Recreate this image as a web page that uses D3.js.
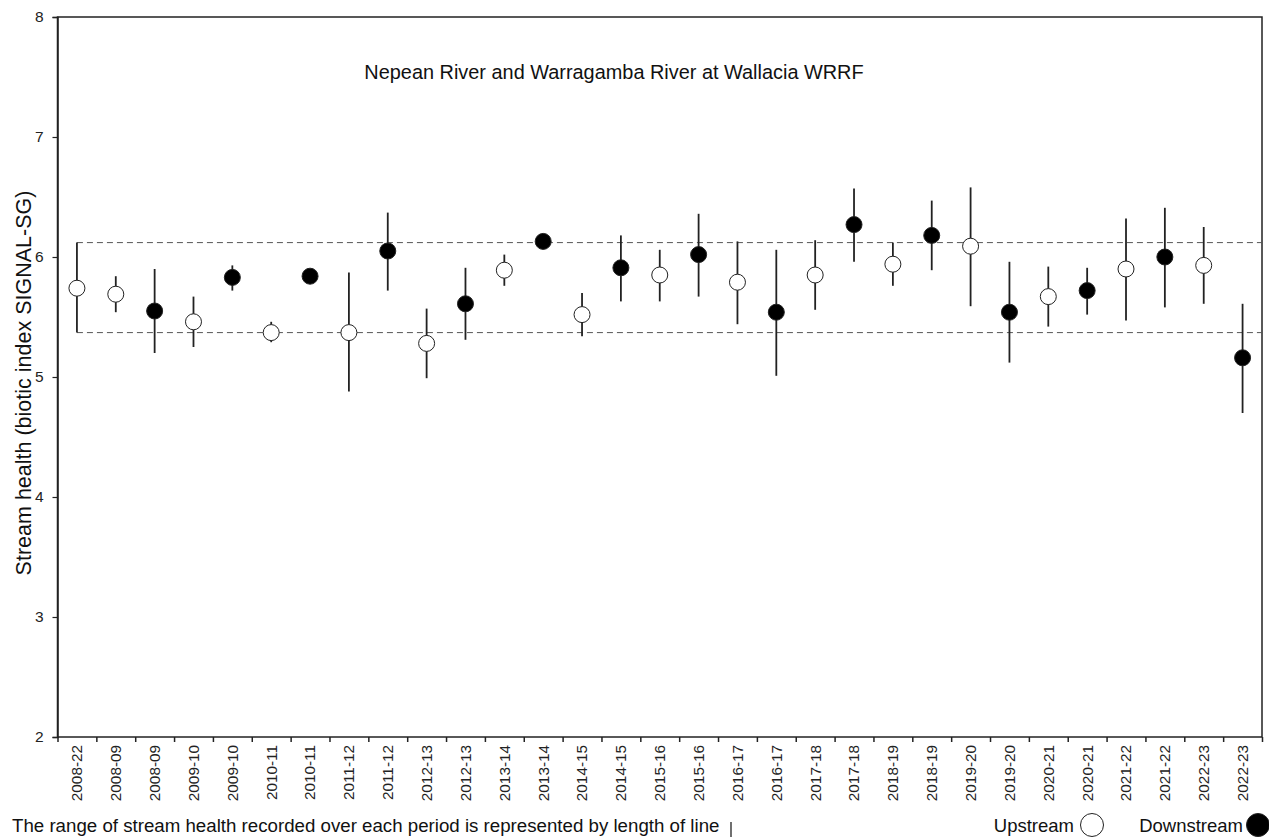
<!DOCTYPE html>
<html>
<head>
<meta charset="utf-8">
<script src="https://cdn.jsdelivr.net/npm/d3@7"></script>
<style>
  body { margin: 0; background: #fff; }
  svg { font-family: 'Liberation Sans', Arial, sans-serif; }
</style>
</head>
<body>
<svg id="chart" width="1269" height="838"></svg>
<script>
const periods = ['2008-22', '2008-09', '2008-09', '2009-10', '2009-10', '2010-11', '2010-11',
  '2011-12', '2011-12', '2012-13', '2012-13', '2013-14', '2013-14', '2014-15', '2014-15',
  '2015-16', '2015-16', '2016-17', '2016-17', '2017-18', '2017-18', '2018-19', '2018-19',
  '2019-20', '2019-20', '2020-21', '2020-21', '2021-22', '2021-22', '2022-23', '2022-23'];

const sites = ['up', 'up', 'down', 'up', 'down', 'up', 'down', 'up', 'down', 'up', 'down',
  'up', 'down', 'up', 'down', 'up', 'down', 'up', 'down', 'up', 'down', 'up', 'down',
  'up', 'down', 'up', 'down', 'up', 'down', 'up', 'down'];

const means = [5.74, 5.69, 5.55, 5.46, 5.83, 5.37, 5.84, 5.37, 6.05, 5.28, 5.61, 5.89, 6.13,
  5.52, 5.91, 5.85, 6.02, 5.79, 5.54, 5.85, 6.27, 5.94, 6.18, 6.09, 5.54, 5.67, 5.72, 5.90,
  6.00, 5.93, 5.16];

const lows = [5.37, 5.54, 5.20, 5.25, 5.72, 5.29, 5.84, 4.88, 5.72, 4.99, 5.31, 5.76, 6.13,
  5.34, 5.63, 5.63, 5.67, 5.44, 5.01, 5.56, 5.96, 5.76, 5.89, 5.59, 5.12, 5.42, 5.52, 5.47,
  5.58, 5.61, 4.70];

const highs = [6.12, 5.84, 5.90, 5.67, 5.93, 5.46, 5.84, 5.87, 6.37, 5.57, 5.91, 6.02, 6.13,
  5.70, 6.18, 6.06, 6.36, 6.13, 6.06, 6.14, 6.57, 6.12, 6.47, 6.58, 5.96, 5.92, 5.91, 6.32,
  6.41, 6.25, 5.61];

// reference range (first period) carried across the chart as dashed lines
const refRange = [5.37, 6.12];
const yTicks = [2, 3, 4, 5, 6, 7, 8];

const svg = d3.select('#chart');
const margin = { top: 17, right: 7, bottom: 101, left: 57.5 };
const width = +svg.attr('width');
const height = +svg.attr('height');
const x0 = margin.left;
const x1 = width - margin.right;
const yTop = margin.top;
const yBot = height - margin.bottom;

const data = periods.map((p, i) => ({
  i: i,
  period: p,
  site: sites[i],
  mean: means[i],
  low: lows[i],
  high: highs[i],
}));

const xScale = d3
  .scaleBand()
  .domain(d3.range(periods.length))
  .range([x0, x1])
  .padding(0);

const xEdge = d3
  .scaleLinear()
  .domain([0, periods.length])
  .range([x0, x1]);

const yScale = d3
  .scaleLinear()
  .domain([2, 8])
  .range([yBot, yTop]);

const cx = i => xScale(i) + xScale.bandwidth() / 2;

// frame
svg
  .append('rect')
  .attr('x', x0)
  .attr('y', yTop)
  .attr('width', x1 - x0)
  .attr('height', yBot - yTop)
  .attr('fill', 'none')
  .attr('stroke', '#222')
  .attr('stroke-width', 1.5);

// y axis
const yAxis = d3
  .axisLeft(yScale)
  .tickValues(yTicks)
  .tickFormat(d3.format('d'))
  .tickSize(5)
  .tickPadding(9);
svg
  .append('g')
  .attr('transform', 'translate(' + x0 + ',0)')
  .call(yAxis)
  .call(g => g.select('.domain').attr('stroke', '#222').attr('stroke-width', 1.5))
  .call(g => g.selectAll('.tick line').attr('stroke', '#222').attr('stroke-width', 1.2))
  .call(g => g.selectAll('text').attr('font-size', 15.5).attr('fill', '#222').attr('font-family', null));

// x tick marks at band edges
svg
  .append('g')
  .attr('transform', 'translate(0,' + yBot + ')')
  .call(d3.axisBottom(xEdge).tickValues(d3.range(periods.length + 1)).tickSize(5).tickFormat(''))
  .call(g => g.select('.domain').remove())
  .call(g => g.selectAll('.tick line').attr('stroke', '#222').attr('stroke-width', 1.5));

// x labels
svg
  .append('g')
  .attr('transform', 'translate(0,' + yBot + ')')
  .call(d3.axisBottom(xScale).tickSize(0).tickFormat(i => periods[i]))
  .call(g => g.select('.domain').remove())
  .call(g =>
    g
      .selectAll('text')
      .attr('font-size', 15.3)
      .attr('font-family', null)
      .attr('fill', '#222')
      .attr('transform', 'rotate(-90)')
      .attr('x', -8)
      .attr('y', 0)
      .attr('dy', '0.35em')
      .style('text-anchor', 'end')
  );

// dashed reference lines
svg
  .selectAll('.ref')
  .data(refRange)
  .enter()
  .append('line')
  .classed('ref', true)
  .attr('x1', cx(0))
  .attr('x2', x1)
  .attr('y1', d => yScale(d))
  .attr('y2', d => yScale(d))
  .attr('stroke', '#555')
  .attr('stroke-width', 1)
  .attr('stroke-dasharray', '6,4');

// range lines
svg
  .selectAll('.range')
  .data(data)
  .enter()
  .append('line')
  .classed('range', true)
  .attr('x1', d => cx(d.i))
  .attr('x2', d => cx(d.i))
  .attr('y1', d => yScale(d.low))
  .attr('y2', d => yScale(d.high))
  .attr('stroke', '#222')
  .attr('stroke-width', 1.8);

// points
svg
  .selectAll('.pt')
  .data(data)
  .enter()
  .append('circle')
  .classed('pt', true)
  .attr('cx', d => cx(d.i))
  .attr('cy', d => yScale(d.mean))
  .attr('r', 8)
  .attr('fill', d => (d.site === 'up' ? '#fff' : '#000'))
  .attr('stroke', '#222')
  .attr('stroke-width', 1);

// title
svg
  .append('text')
  .attr('x', 614)
  .attr('y', 79)
  .attr('text-anchor', 'middle')
  .attr('font-size', 19.9)
  .attr('fill', '#111')
  .text('Nepean River and Warragamba River at Wallacia WRRF');

// y label
svg
  .append('text')
  .attr('transform', 'rotate(-90)')
  .attr('x', -383)
  .attr('y', 31)
  .attr('text-anchor', 'middle')
  .attr('font-size', 21.5)
  .attr('fill', '#111')
  .text('Stream health (biotic index SIGNAL-SG)');

// footnote
svg
  .append('text')
  .attr('x', 12)
  .attr('y', 832)
  .attr('font-size', 18.7)
  .attr('fill', '#111')
  .text('The range of stream health recorded over each period is represented by length of line');

svg
  .append('line')
  .attr('x1', 731)
  .attr('x2', 731)
  .attr('y1', 822)
  .attr('y2', 837)
  .attr('stroke', '#222')
  .attr('stroke-width', 1.3);

// legend
const legend = [
  { label: 'Upstream', fill: '#fff', tx: 1074, cx: 1092 },
  { label: 'Downstream', fill: '#000', tx: 1243, cx: 1258 },
];

const lg = svg.selectAll('.legend').data(legend).enter().append('g').classed('legend', true);

lg.append('text')
  .attr('x', d => d.tx)
  .attr('y', 832)
  .attr('text-anchor', 'end')
  .attr('font-size', 18.5)
  .attr('fill', '#111')
  .text(d => d.label);

lg.append('circle')
  .attr('cx', d => d.cx)
  .attr('cy', 825)
  .attr('r', 11.5)
  .attr('fill', d => d.fill)
  .attr('stroke', '#222')
  .attr('stroke-width', 1);
</script>
</body>
</html>
